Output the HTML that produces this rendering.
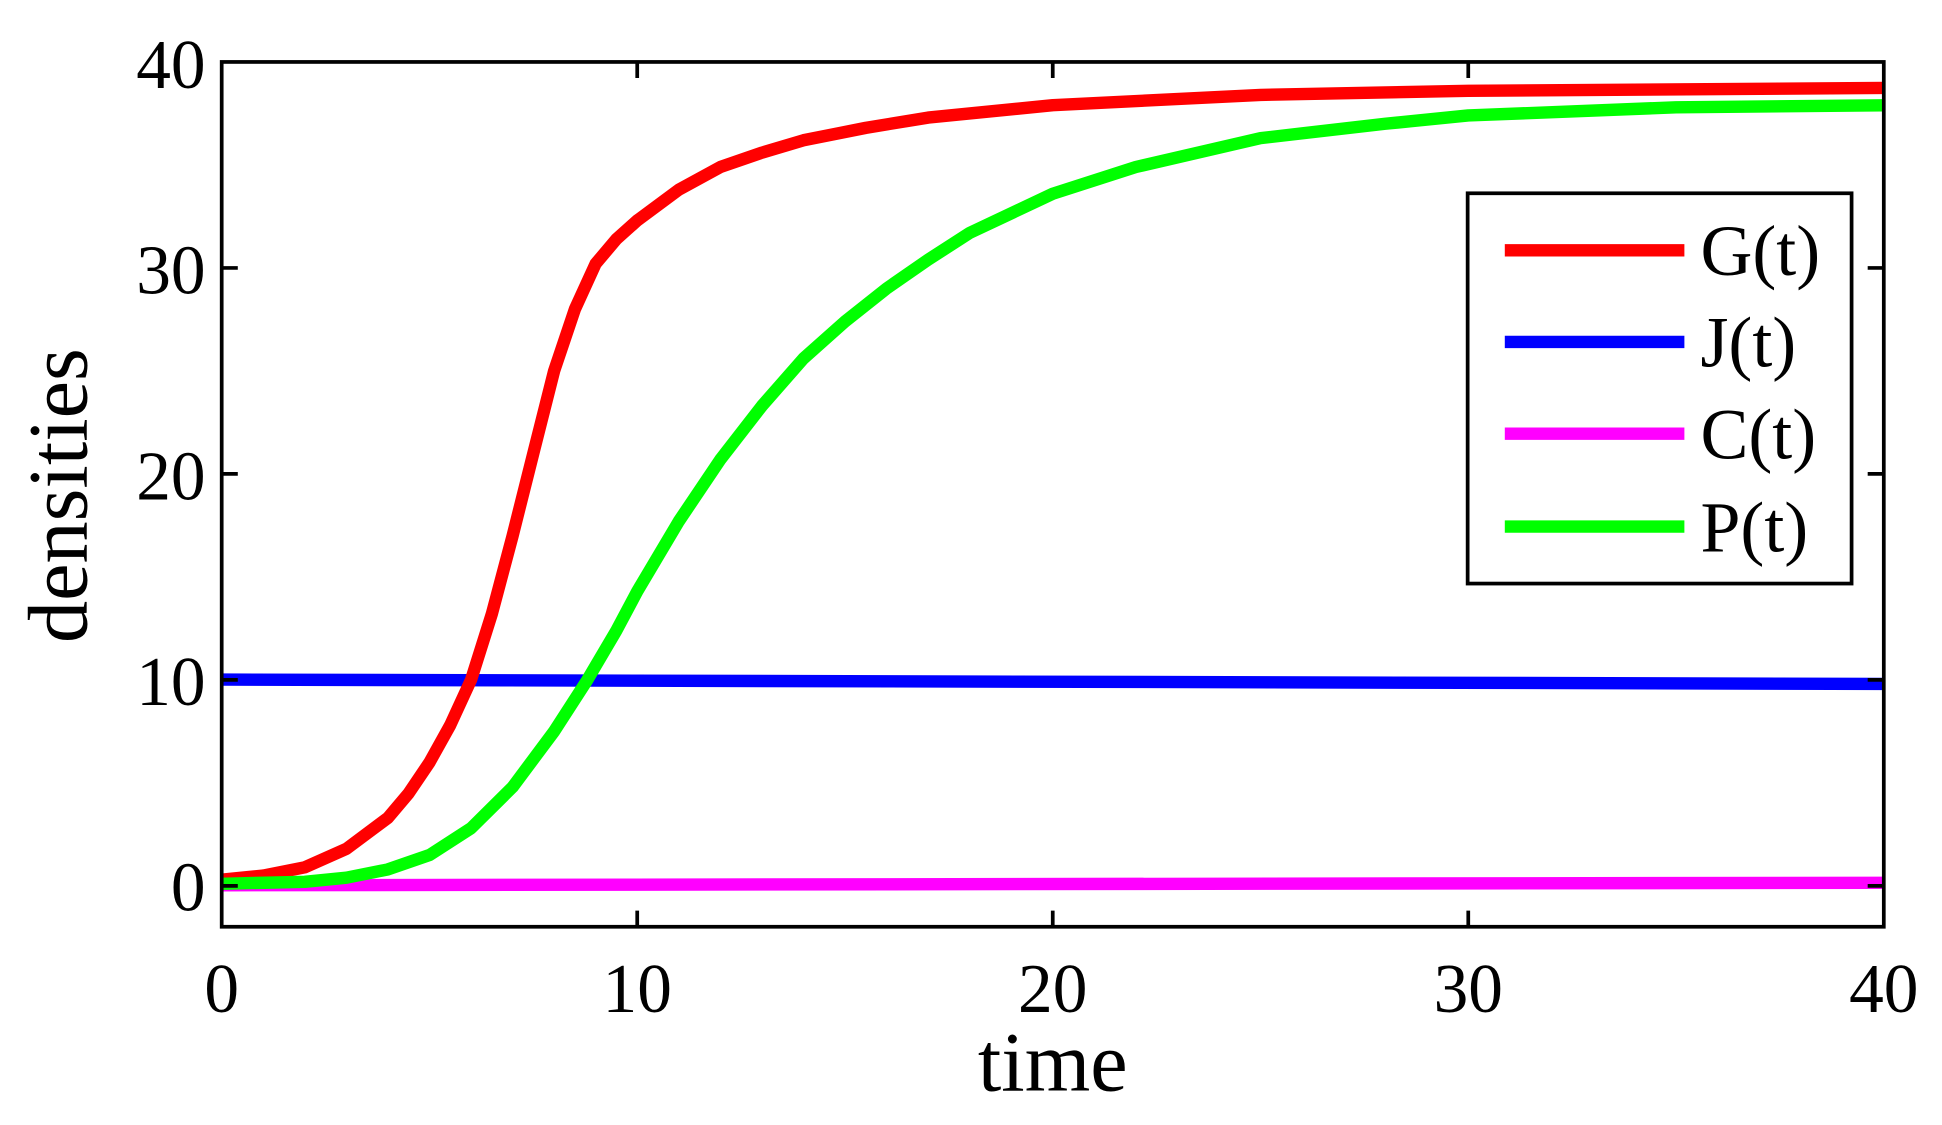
<!DOCTYPE html>
<html><head><meta charset="utf-8"><style>html,body{margin:0;padding:0;background:#fff;overflow:hidden}svg{display:block}</style></head>
<body>
<svg width="1942" height="1125" viewBox="0 0 1568 908" preserveAspectRatio="none" xmlns="http://www.w3.org/2000/svg" font-family="'Liberation Serif', serif">
<rect x="0" y="0" width="1568" height="908" fill="#fff"/>
<g fill="none" stroke-width="10" stroke-linejoin="round" stroke-linecap="butt">
<polyline stroke="#00f" points="179,548.5 1521,552"/>
<polyline stroke="#f0f" points="179,714.5 1521,712.5"/>
<polyline stroke="#f00" points="179,710 212.6,706.7 246.1,700 279.7,685.1 313.2,660.1 330,640.2 346.8,615.3 363.5,585.3 380.3,548.8 397.1,495.6 413.9,432.4 430.6,365.9 447.4,299.4 464.2,249.5 480.9,212.9 497.7,193 514.5,178 548.1,153.1 581.6,134.8 615.2,123.2 648.7,113.2 699,103.2 749.4,94.9 850,84.9 1017.8,76.6 1185.5,73.3 1521,71"/>
<polyline stroke="#0f0" points="179,713.3 246.1,711.7 279.7,708.4 313.2,701.7 346.8,690.1 380.3,668.5 413.9,635.2 447.4,590.3 474.2,548.8 497.7,508.9 514.5,477.3 548.1,420.7 581.6,370.9 615.2,327.6 648.7,289.4 682.3,259.5 715.8,232.9 749.4,209.6 782.9,188 850,156.4 917.1,134.8 1017.8,111.5 1118.4,99.9 1185.5,93.2 1353.3,86.6 1521,85"/>
</g>
<g stroke="#000" stroke-width="3" fill="none">
<rect x="179" y="50" width="1342" height="698"/>
<path d="M179,715h13M179,548.75h13M179,382.5h13M179,216.25h13M1521,715h-13M1521,548.75h-13M1521,382.5h-13M1521,216.25h-13
M514.5,748v-13M850,748v-13M1185.5,748v-13M514.5,50v13M850,50v13M1185.5,50v13"/>
</g>
<g font-size="56" fill="#000" text-anchor="end">
<text x="166" y="735">0</text><text x="166" y="569">10</text><text x="166" y="403">20</text><text x="166" y="237">30</text><text x="166" y="71">40</text>
</g>
<g font-size="56" fill="#000" text-anchor="middle">
<text x="179" y="817">0</text><text x="514.5" y="817">10</text><text x="850" y="817">20</text><text x="1185.5" y="817">30</text><text x="1521" y="817">40</text>
<text x="850" y="880" font-size="68">time</text>
<text transform="translate(70,400) rotate(-90)" font-size="68">densities</text>
</g>
<rect x="1185" y="156" width="310" height="315" fill="#fff" stroke="#000" stroke-width="3"/>
<g stroke-width="10">
<path d="M1215,202H1360" stroke="#f00"/><path d="M1215,276H1360" stroke="#00f"/><path d="M1215,350H1360" stroke="#f0f"/><path d="M1215,425H1360" stroke="#0f0"/>
</g>
<g font-size="58" fill="#000">
<text x="1373" y="222">G(t)</text><text x="1373" y="296">J(t)</text><text x="1373" y="370">C(t)</text><text x="1373" y="445">P(t)</text>
</g>
</svg>
</body></html>
